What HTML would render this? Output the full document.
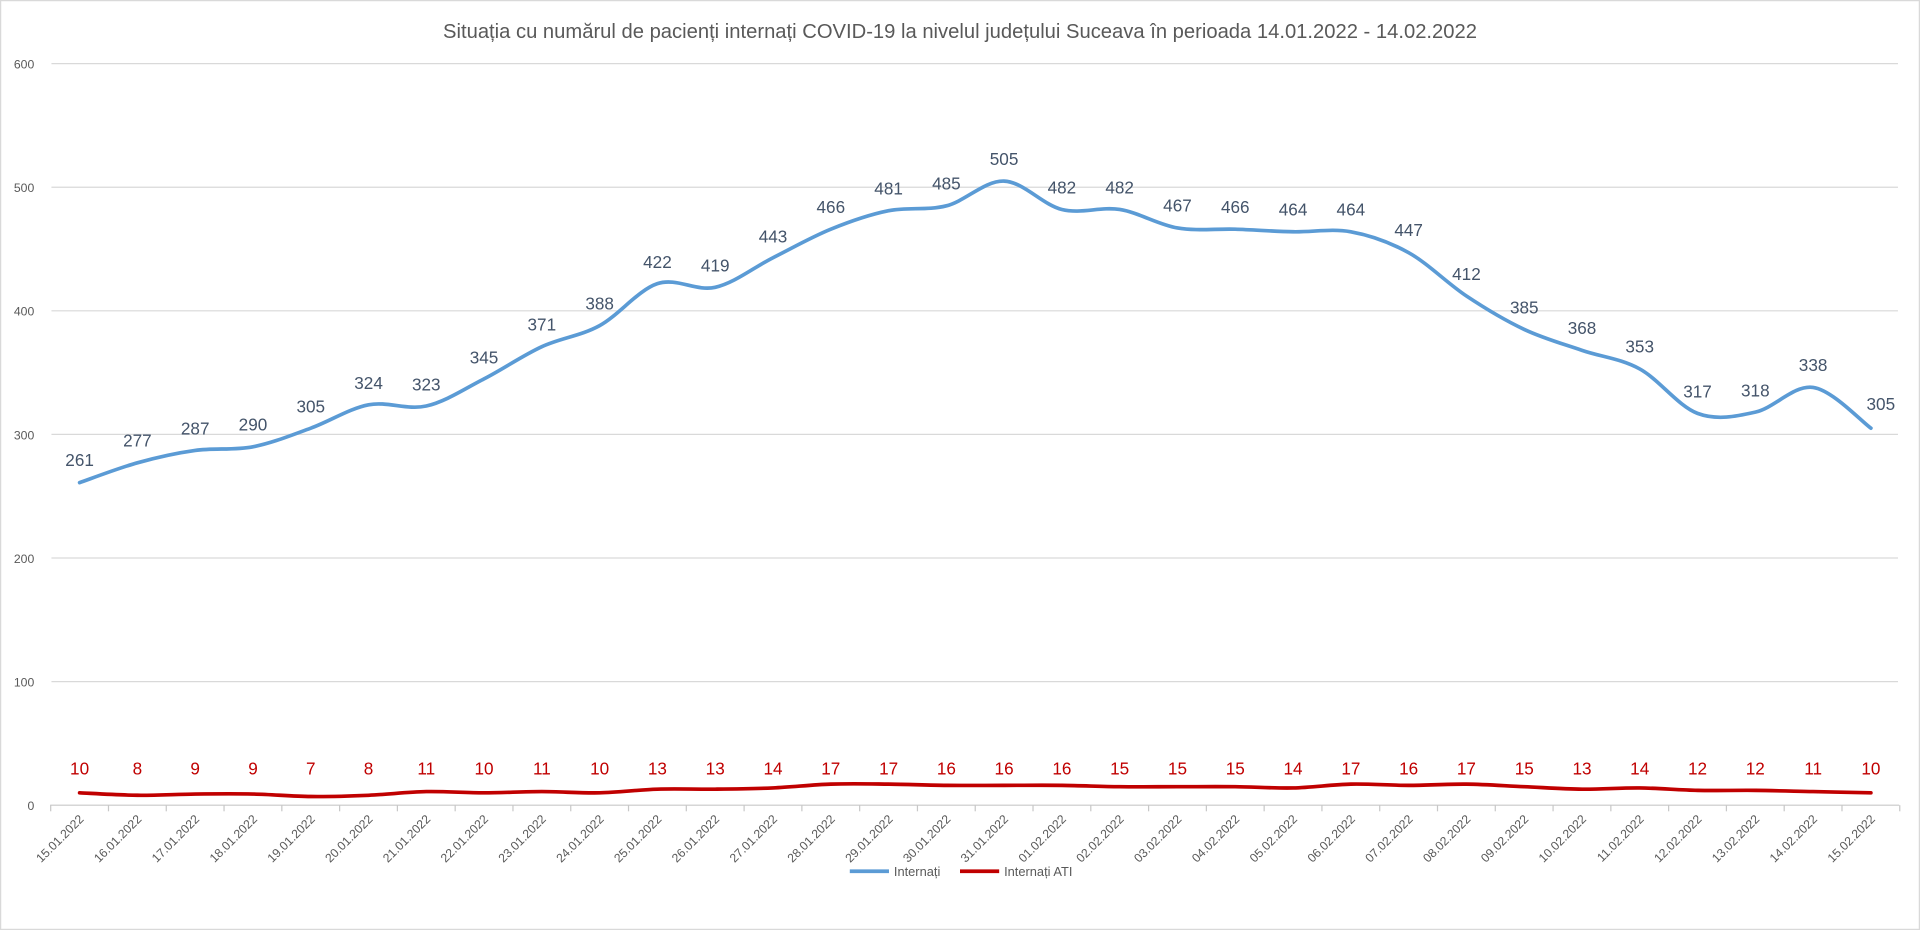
<!DOCTYPE html>
<html><head><meta charset="utf-8"><style>
html,body{margin:0;padding:0;background:#fff}
svg{display:block}
text{font-family:"Liberation Sans",sans-serif}
</style></head><body>
<svg width="1920" height="930" viewBox="0 0 1568 760" preserveAspectRatio="none" xmlns="http://www.w3.org/2000/svg">
<rect x="0.5" y="0.5" width="1567" height="759" fill="#fff" stroke="#d9d9d9"/>
<text x="784" y="31" text-anchor="middle" font-size="16.5" fill="#595959">Situația cu numărul de pacienți internați COVID-19 la nivelul județului Suceava în perioada 14.01.2022 - 14.02.2022</text>
<g stroke="#d9d9d9" stroke-width="1">
<line x1="42" x2="1550" y1="52" y2="52"/><line x1="42" x2="1550" y1="153" y2="153"/><line x1="42" x2="1550" y1="254" y2="254"/><line x1="42" x2="1550" y1="355" y2="355"/><line x1="42" x2="1550" y1="456" y2="456"/><line x1="42" x2="1550" y1="557" y2="557"/>
</g>
<line x1="41" x2="1551" y1="658" y2="658" stroke="#c8c8c8"/>
<g stroke="#c8c8c8" id="ticks"></g>
<g font-size="10" fill="#595959" text-anchor="end">
<text x="28" y="56">600</text><text x="28" y="157">500</text><text x="28" y="258">400</text><text x="28" y="359">300</text><text x="28" y="460">200</text><text x="28" y="561">100</text><text x="28" y="662">0</text>
</g>
<polyline class="sm" fill="none" stroke="#5b9bd5" stroke-width="3" stroke-linejoin="round" stroke-linecap="round" points="65,394.4 112.2,378.2 159.4,368.1 206.6,365.1 253.8,349.9 301,330.8 348.1,331.8 395.3,309.6 442.5,283.3 489.7,266.1 536.9,231.8 584.1,234.8 631.3,210.6 678.5,187.3 725.7,172.2 772.9,168.2 820,148 867.2,171.2 914.4,171.2 961.6,186.3 1008.8,187.3 1056,189.4 1103.2,189.4 1150.4,206.5 1197.6,241.9 1244.8,269.2 1292,286.3 1339.1,301.5 1386.3,337.8 1433.5,336.8 1480.7,316.6 1527.9,349.9"/>
<polyline class="sm" fill="none" stroke="#c00000" stroke-width="3" stroke-linejoin="round" stroke-linecap="round" points="65,647.9 112.2,649.9 159.4,648.9 206.6,648.9 253.8,650.9 301,649.9 348.1,646.9 395.3,647.9 442.5,646.9 489.7,647.9 536.9,644.9 584.1,644.9 631.3,643.9 678.5,640.8 725.7,640.8 772.9,641.8 820,641.8 867.2,641.8 914.4,642.9 961.6,642.9 1008.8,642.9 1056,643.9 1103.2,640.8 1150.4,641.8 1197.6,640.8 1244.8,642.9 1292,644.9 1339.1,643.9 1386.3,645.9 1433.5,645.9 1480.7,646.9 1527.9,647.9"/>
<g font-size="14" fill="#44546a" text-anchor="middle">
<text x="65" y="381">261</text><text x="112.2" y="365">277</text><text x="159.4" y="355">287</text><text x="206.6" y="352">290</text><text x="253.8" y="337">305</text><text x="301" y="318">324</text><text x="348.1" y="319">323</text><text x="395.3" y="297">345</text><text x="442.5" y="270">371</text><text x="489.7" y="253">388</text><text x="536.9" y="219">422</text><text x="584.1" y="222">419</text><text x="631.3" y="198">443</text><text x="678.5" y="174">466</text><text x="725.7" y="159">481</text><text x="772.9" y="155">485</text><text x="820" y="135">505</text><text x="867.2" y="158">482</text><text x="914.4" y="158">482</text><text x="961.6" y="173">467</text><text x="1008.8" y="174">466</text><text x="1056" y="176">464</text><text x="1103.2" y="176">464</text><text x="1150.4" y="193">447</text><text x="1197.6" y="229">412</text><text x="1244.8" y="256">385</text><text x="1292" y="273">368</text><text x="1339.1" y="288">353</text><text x="1386.3" y="325">317</text><text x="1433.5" y="324">318</text><text x="1480.7" y="303">338</text><text x="1536" y="335">305</text>
</g>
<g font-size="14" fill="#c00000" text-anchor="middle">
<text x="65" y="633">10</text><text x="112.2" y="633">8</text><text x="159.4" y="633">9</text><text x="206.6" y="633">9</text><text x="253.8" y="633">7</text><text x="301" y="633">8</text><text x="348.1" y="633">11</text><text x="395.3" y="633">10</text><text x="442.5" y="633">11</text><text x="489.7" y="633">10</text><text x="536.9" y="633">13</text><text x="584.1" y="633">13</text><text x="631.3" y="633">14</text><text x="678.5" y="633">17</text><text x="725.7" y="633">17</text><text x="772.9" y="633">16</text><text x="820" y="633">16</text><text x="867.2" y="633">16</text><text x="914.4" y="633">15</text><text x="961.6" y="633">15</text><text x="1008.8" y="633">15</text><text x="1056" y="633">14</text><text x="1103.2" y="633">17</text><text x="1150.4" y="633">16</text><text x="1197.6" y="633">17</text><text x="1244.8" y="633">15</text><text x="1292" y="633">13</text><text x="1339.1" y="633">14</text><text x="1386.3" y="633">12</text><text x="1433.5" y="633">12</text><text x="1480.7" y="633">11</text><text x="1527.9" y="633">10</text>
</g>
<g font-size="10" fill="#595959" text-anchor="end">
<text transform="translate(69,670) rotate(-45)">15.01.2022</text><text transform="translate(116.2,670) rotate(-45)">16.01.2022</text><text transform="translate(163.4,670) rotate(-45)">17.01.2022</text><text transform="translate(210.6,670) rotate(-45)">18.01.2022</text><text transform="translate(257.8,670) rotate(-45)">19.01.2022</text><text transform="translate(305,670) rotate(-45)">20.01.2022</text><text transform="translate(352.1,670) rotate(-45)">21.01.2022</text><text transform="translate(399.3,670) rotate(-45)">22.01.2022</text><text transform="translate(446.5,670) rotate(-45)">23.01.2022</text><text transform="translate(493.7,670) rotate(-45)">24.01.2022</text><text transform="translate(540.9,670) rotate(-45)">25.01.2022</text><text transform="translate(588.1,670) rotate(-45)">26.01.2022</text><text transform="translate(635.3,670) rotate(-45)">27.01.2022</text><text transform="translate(682.5,670) rotate(-45)">28.01.2022</text><text transform="translate(729.7,670) rotate(-45)">29.01.2022</text><text transform="translate(776.9,670) rotate(-45)">30.01.2022</text><text transform="translate(824,670) rotate(-45)">31.01.2022</text><text transform="translate(871.2,670) rotate(-45)">01.02.2022</text><text transform="translate(918.4,670) rotate(-45)">02.02.2022</text><text transform="translate(965.6,670) rotate(-45)">03.02.2022</text><text transform="translate(1012.8,670) rotate(-45)">04.02.2022</text><text transform="translate(1060,670) rotate(-45)">05.02.2022</text><text transform="translate(1107.2,670) rotate(-45)">06.02.2022</text><text transform="translate(1154.4,670) rotate(-45)">07.02.2022</text><text transform="translate(1201.6,670) rotate(-45)">08.02.2022</text><text transform="translate(1248.8,670) rotate(-45)">09.02.2022</text><text transform="translate(1296,670) rotate(-45)">10.02.2022</text><text transform="translate(1343.1,670) rotate(-45)">11.02.2022</text><text transform="translate(1390.3,670) rotate(-45)">12.02.2022</text><text transform="translate(1437.5,670) rotate(-45)">13.02.2022</text><text transform="translate(1484.7,670) rotate(-45)">14.02.2022</text><text transform="translate(1531.9,670) rotate(-45)">15.02.2022</text>
</g>
<line x1="694" x2="726" y1="712" y2="712" stroke="#5b9bd5" stroke-width="3"/>
<text x="730" y="716" font-size="10.5" fill="#595959">Internați</text>
<line x1="784" x2="816" y1="712" y2="712" stroke="#c00000" stroke-width="3"/>
<text x="820" y="716" font-size="10.5" fill="#595959">Internați ATI</text>
</svg>
<script>
var NS="http://www.w3.org/2000/svg";
document.querySelectorAll("polyline.sm").forEach(function(pl){
  var p=pl.getAttribute("points").trim().split(/\s+/).map(function(s){return s.split(",").map(Number);});
  var d="M"+p[0][0]+","+p[0][1];
  for(var i=0;i<p.length-1;i++){
    var p0=p[i-1]||p[i],p1=p[i],p2=p[i+1],p3=p[i+2]||p2,t=6;
    d+=" C"+(p1[0]+(p2[0]-p0[0])/t)+","+(p1[1]+(p2[1]-p0[1])/t)+" "+(p2[0]-(p3[0]-p1[0])/t)+","+(p2[1]-(p3[1]-p1[1])/t)+" "+p2[0]+","+p2[1];
  }
  var path=document.createElementNS(NS,"path");
  ["fill","stroke","stroke-width","stroke-linejoin","stroke-linecap"].forEach(function(a){path.setAttribute(a,pl.getAttribute(a));});
  path.setAttribute("d",d);
  pl.parentNode.replaceChild(path,pl);
});
var g=document.getElementById("ticks");
for(var i=0;i<=32;i++){var x=41.4+47.19*i;var l=document.createElementNS(NS,"line");l.setAttribute("x1",x);l.setAttribute("x2",x);l.setAttribute("y1",658);l.setAttribute("y2",663);g.appendChild(l);}
</script>
</body></html>
